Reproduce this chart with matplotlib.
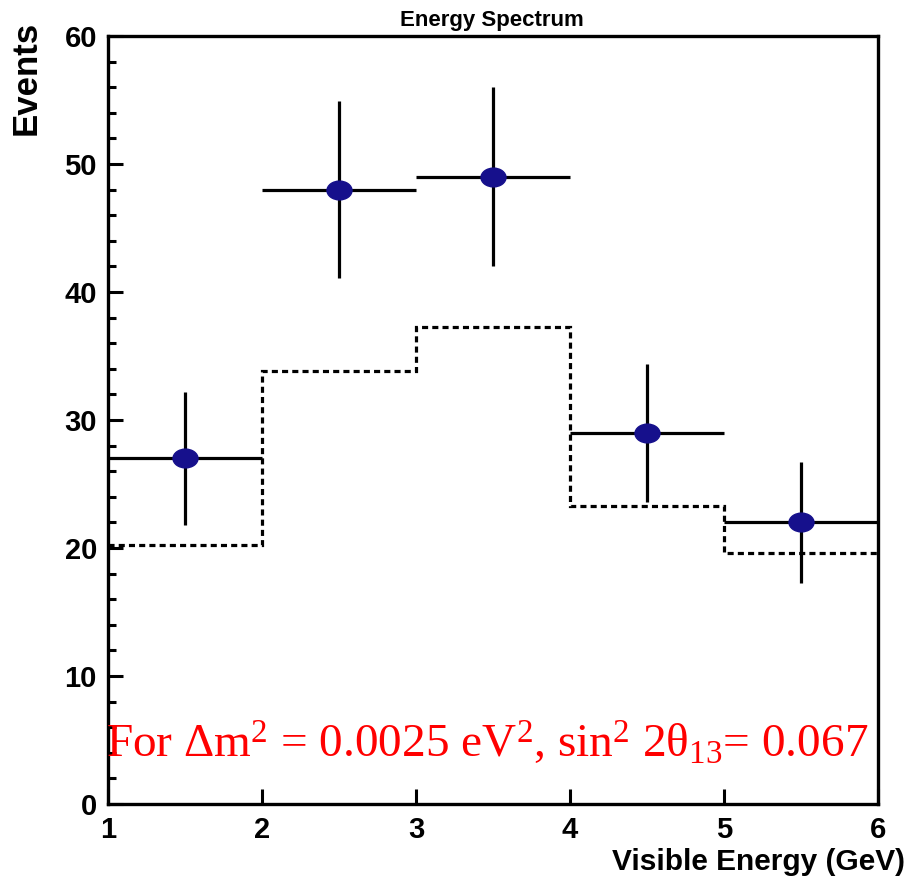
import matplotlib.pyplot as plt
import numpy as np
from matplotlib.markers import MarkerStyle
from matplotlib.path import Path

plt.switch_backend("agg")

# bin edges and contents
edges = [1, 2, 3, 4, 5, 6]
centers = [1.5, 2.5, 3.5, 4.5, 5.5]
events = [27, 48, 49, 29, 22]
errors = [5.2, 6.9, 7.0, 5.4, 4.7]
half_width = [0.5, 0.5, 0.5, 0.5, 0.5]
expected = [20.2, 33.8, 37.3, 23.3, 19.6]

plt.rcParams["font.family"] = ["Liberation Sans", "DejaVu Sans"]
plt.rcParams["mathtext.fontset"] = "custom"
plt.rcParams["mathtext.rm"] = "Liberation Serif"
plt.rcParams["mathtext.it"] = "Liberation Serif"

fig = plt.figure(figsize=(9.13, 8.86), dpi=100)
ax = fig.add_axes([0.1183, 0.0926, 0.8434, 0.8668])

# expected spectrum (no oscillation), dashed histogram
ax.stairs(expected, edges, baseline=None, color="black", linewidth=2.3,
          linestyle=(0, (1.9, 1.3)))

# data points, elliptical marker like the original
circ = Path.unit_circle()
ell = Path(circ.vertices * np.array([1.0, 0.75]), circ.codes)
ax.errorbar(centers, events, yerr=errors, xerr=half_width, fmt="none",
            ecolor="black", elinewidth=2.3, capsize=0, zorder=3)
ax.plot(centers, events, linestyle="none", marker=MarkerStyle(ell),
        markersize=18, color="#16108c", zorder=4)

ax.set_xlim(1, 6)
ax.set_ylim(0, 60)
ax.set_xticks([1, 2, 3, 4, 5, 6])
ax.set_yticks(np.arange(0, 61, 10))
ax.set_yticks(np.arange(0, 61, 2), minor=True)
ax.tick_params(axis="both", which="both", direction="in", top=False, right=False)
ax.tick_params(axis="y", which="major", length=11, width=2.2, labelsize=21, pad=8)
ax.tick_params(axis="y", which="minor", length=6, width=2.2)
ax.tick_params(axis="x", which="major", length=11, width=2.2, labelsize=21, pad=9)
for lab in ax.get_xticklabels() + ax.get_yticklabels():
    lab.set_fontweight("bold")
for sp in ax.spines.values():
    sp.set_linewidth(2.4)

fig.text(0.539, 0.977, "Energy Spectrum", ha="center", va="center",
         fontsize=16, fontweight="bold")
fig.text(0.029, 0.977, "Events", rotation=90, ha="center", va="top",
         fontsize=25, fontweight="bold")
fig.text(0.991, 0.027, "Visible Energy (GeV)", ha="right", va="center",
         fontsize=21.5, fontweight="bold")

ax.text(0.493, 0.078,
        "For \u0394m$^2$ = 0.0025 eV$^2$, sin$^2$ 2\u03b8$_{13}$= 0.067",
        transform=ax.transAxes, ha="center", va="center", color="red",
        fontsize=34, family="Liberation Serif")

fig.savefig("out.png", dpi=100)
